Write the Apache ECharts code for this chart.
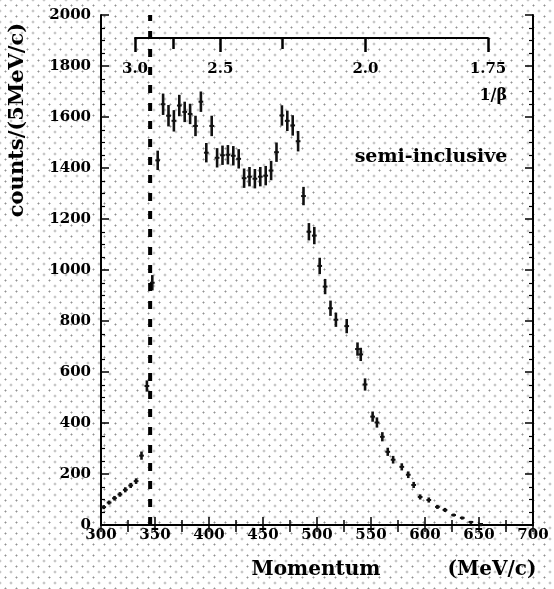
<!DOCTYPE html>
<html>
<head>
<meta charset="utf-8">
<script src="https://cdn.jsdelivr.net/npm/echarts@6/dist/echarts.min.js"></script>
<style>
html,body{margin:0;padding:0;}
#c{width:554px;height:589px;
background-color:#fff;
background-image:radial-gradient(circle, rgba(70,70,70,0.6) 0.8px, transparent 1.2px),radial-gradient(circle, rgba(70,70,70,0.6) 0.8px, transparent 1.2px);
background-size:11px 11px,11px 11px;background-position:0 0,5.5px 5.5px;}
</style>
</head>
<body>
<div id="c"></div>
<script>
// ---- data ----
const momentum = [302.5,307.5,312.5,317.5,322.5,327.5,332.5,337.5,342.5,347.5,
  352.5,357.5,362.5,367.5,372.5,377.5,382.5,387.5,392.5,397.5,
  402.5,407.5,412.5,417.5,422.5,427.5,432.5,437.5,442.5,447.5,
  452.5,457.5,462.5,467.5,472.5,477.5,482.5,487.5,492.5,497.5,
  502.5,507.5,512.5,517.5,527.5,537.5,540.5,544.5,551.5,555.5,
  560.5,565.5,570.5,578.5,584.5,589.5,595.5,603.5,611.5,618.5,
  626.5,634.5,642.5,651.5];
const counts = [70,88,105,120,138,155,172,272,545,950,
  1430,1650,1605,1585,1645,1620,1612,1565,1660,1460,
  1565,1440,1450,1452,1448,1436,1360,1366,1358,1366,
  1370,1390,1462,1606,1585,1567,1505,1290,1150,1135,
  1016,935,850,805,780,690,669,551,425,402,
  346,287,256,228,197,157,110,98,71,59,
  39,28,12,4];
const errors = [8,8,9,9,10,10,11,16,22,30,
  38,42,42,42,42,40,40,40,40,38,
  40,38,38,38,38,38,38,38,38,38,
  38,38,38,40,40,40,40,36,34,34,
  32,30,30,28,28,26,26,24,20,20,
  18,16,15,14,13,12,10,10,8,8,
  6,5,4,3];
const dashedMomentum = 345.5;
const xTicks = {min:300, max:700, interval:50};
const yTicks = {min:0, max:2000, interval:200};
const invBetaMajor = [3.0, 2.5, 2.0, 1.75];
const invBetaMinor = [2.75, 2.25];
const invBetaLabels = ['3.0','2.5','2.0','1.75'];
const protonMass = 938.3;

// 1/beta -> momentum for a proton
function pOf(b){ return protonMass/Math.sqrt(b*b-1); }
const majorP = invBetaMajor.map(pOf);
const minorP = invBetaMinor.map(pOf);

const points = momentum.map((m,i)=>[m, counts[i], errors[i]]);

const FONT = '"DejaVu Serif", "Liberation Serif", serif';
const chart = echarts.init(document.getElementById('c'), null, {renderer:'canvas'});

const frameAxisLine = {show:true, lineStyle:{color:'#000', width:2}};
chart.setOption({
  backgroundColor:'transparent',
  animation:false,
  grid:[
    {left:101, right:21, top:15, bottom:64},
    {left:135, right:66, top:30, height:8}
  ],
  xAxis:[
    {type:'value', gridIndex:0, position:'bottom', min:xTicks.min, max:xTicks.max, interval:xTicks.interval,
     axisLine:frameAxisLine,
     axisTick:{show:true, inside:true, length:8, lineStyle:{color:'#000', width:1.5}},
     minorTick:{show:true, splitNumber:2, length:5, lineStyle:{color:'#000', width:1.5}},
     axisLabel:{color:'#000', fontFamily:FONT, fontWeight:'bold', fontSize:15, margin:3, formatter:(v)=>String(v)},
     splitLine:{show:false}},
    {type:'value', gridIndex:0, position:'top', min:xTicks.min, max:xTicks.max, interval:xTicks.interval,
     axisLine:frameAxisLine,
     axisTick:{show:true, inside:true, length:7, lineStyle:{color:'#000', width:1.5}},
     minorTick:{show:true, splitNumber:2, length:7, lineStyle:{color:'#000', width:1.5}},
     axisLabel:{show:false}, splitLine:{show:false}},
    {type:'value', gridIndex:1, position:'bottom', min:majorP[0], max:majorP[majorP.length-1],
     axisLine:{show:true, lineStyle:{color:'#000', width:2}},
     axisTick:{show:true, inside:false, length:14, customValues:majorP, lineStyle:{color:'#000', width:2.5}},
     axisLabel:{show:true, customValues:majorP, margin:24, color:'#000', fontFamily:FONT, fontWeight:'bold', fontSize:15,
       formatter:(v)=>{ let best=0,d=1e9; majorP.forEach((p,i)=>{ if(Math.abs(p-v)<d){d=Math.abs(p-v);best=i;} }); return invBetaLabels[best]; }},
     splitLine:{show:false}},
    {type:'value', gridIndex:1, position:'bottom', min:majorP[0], max:majorP[majorP.length-1],
     axisLine:{show:false},
     axisTick:{show:true, inside:false, length:11, customValues:minorP, lineStyle:{color:'#000', width:2.5}},
     axisLabel:{show:false}, splitLine:{show:false}}
  ],
  yAxis:[
    {type:'value', gridIndex:0, position:'left', min:yTicks.min, max:yTicks.max, interval:yTicks.interval,
     axisLine:frameAxisLine,
     axisTick:{show:true, inside:true, length:8, lineStyle:{color:'#000', width:1.5}},
     minorTick:{show:true, splitNumber:4, length:4, lineStyle:{color:'#000', width:1.2}},
     axisLabel:{color:'#000', fontFamily:FONT, fontWeight:'bold', fontSize:15, margin:10, formatter:(v)=>String(v)},
     splitLine:{show:false}},
    {type:'value', gridIndex:0, position:'right', min:yTicks.min, max:yTicks.max, interval:yTicks.interval,
     axisLine:frameAxisLine,
     axisTick:{show:true, inside:true, length:8, lineStyle:{color:'#000', width:1.5}},
     minorTick:{show:true, splitNumber:4, length:4, lineStyle:{color:'#000', width:1.2}},
     axisLabel:{show:false}, splitLine:{show:false}},
    {type:'value', gridIndex:1, show:false, min:0, max:1}
  ],
  series:[
    {type:'custom', xAxisIndex:0, yAxisIndex:0, data:points, clip:false,
     renderItem:(params, api)=>{
       const x=api.value(0), y=api.value(1), e=api.value(2);
       const top=api.coord([x, y+e]), bot=api.coord([x, y-e]);
       const l=api.coord([x-2.2, y]), r=api.coord([x+2.2, y]);
       return {type:'group', children:[
         {type:'line', shape:{x1:top[0], y1:top[1], x2:bot[0], y2:Math.max(bot[1], top[1]+3)}, style:{stroke:'#111', lineWidth:2.6}},
         {type:'line', shape:{x1:l[0], y1:l[1], x2:r[0], y2:r[1]}, style:{stroke:'#111', lineWidth:2}}
       ]};
     }},
    {type:'line', xAxisIndex:0, yAxisIndex:0, data:[[dashedMomentum, yTicks.min],[dashedMomentum, yTicks.max]],
     symbol:'none', lineStyle:{color:'#000', width:4, type:[8,10]}, silent:true}
  ],
  graphic:[
    {type:'text', x:18, y:120, rotation:Math.PI/2, style:{text:'counts/(5MeV/c)', fill:'#000', font:'bold 21px '+FONT, align:'center', verticalAlign:'middle'}},
    {type:'text', x:316, y:570, style:{text:'Momentum', fill:'#000', font:'bold 20px '+FONT, align:'center', verticalAlign:'middle'}},
    {type:'text', x:492, y:570, style:{text:'(MeV/c)', fill:'#000', font:'bold 20px '+FONT, align:'center', verticalAlign:'middle'}},
    {type:'text', x:507, y:96, style:{text:'1/β', fill:'#000', font:'bold 16px '+FONT, align:'right', verticalAlign:'middle'}},
    {type:'text', x:431, y:157, style:{text:'semi-inclusive', fill:'#000', font:'bold 19px '+FONT, align:'center', verticalAlign:'middle'}}
  ]
});
</script>
</body>
</html>
